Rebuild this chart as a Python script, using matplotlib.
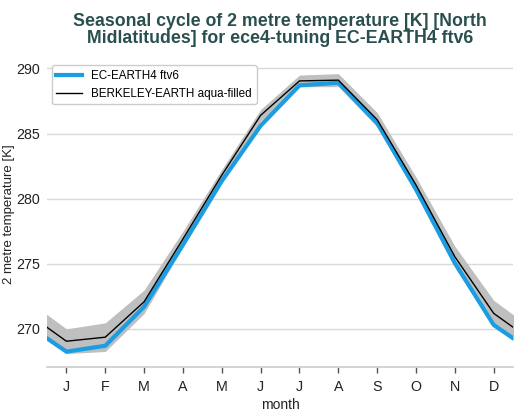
import numpy as np
import matplotlib.pyplot as plt

plt.rcParams['font.family'] = ['Liberation Sans', 'DejaVu Sans']

months = ['J', 'F', 'M', 'A', 'M', 'J', 'J', 'A', 'S', 'O', 'N', 'D']
model = [268.25, 268.7, 271.7, 276.45, 281.35, 285.6, 288.7, 288.9, 285.8, 280.7, 275.05, 270.3]
obs = [269.05, 269.36, 272.08, 276.9, 281.8, 286.4, 289.04, 289.1, 286.06, 281.05, 275.54, 271.19]
obs_std = [0.95, 1.1, 0.9, 0.6, 0.45, 0.45, 0.45, 0.5, 0.55, 0.6, 0.8, 1.0]


def wrap(v):
    # add december before january and january after december
    v = np.asarray(v)
    return np.concatenate([v[-1:], v, v[:1]])


x = np.arange(0, 14)
m = wrap(model)
o = wrap(obs)
s = wrap(obs_std)

fig = plt.figure(figsize=(5.22, 4.18), dpi=100)
ax = fig.add_axes([0.09, 0.122, 0.893, 0.733])

ax.fill_between(x, o - s, o + s, color='#bfbfbf', lw=0, zorder=2)
ax.plot(x, m, color='#1c9de2', lw=3, label='EC-EARTH4 ftv6', zorder=3)
ax.plot(x, o, color='black', lw=1, label='BERKELEY-EARTH aqua-filled', zorder=4)

ax.set_xlim(0.5, 12.5)
ax.set_ylim(267.07, 290.6)
ax.set_xticks(range(1, 13))
ax.set_xticklabels(months)
ax.set_yticks([270, 275, 280, 285, 290])
ax.grid(axis='y', color='#d9d9d9', lw=1, zorder=1)
ax.set_axisbelow(True)
for sp in ['left', 'top', 'right']:
    ax.spines[sp].set_visible(False)
ax.spines['bottom'].set_color('#cccccc')
ax.spines['bottom'].set_linewidth(1.2)
ax.tick_params(axis='x', colors='#555555', labelcolor='#222222', length=4, width=1, labelsize=10.3, pad=5)
ax.tick_params(axis='y', length=0, labelcolor='#222222', labelsize=10.3, pad=5)

ax.set_xlabel('month', fontsize=10, color='#222222', labelpad=3)
ax.set_ylabel('2 metre temperature [K]', fontsize=9.5, color='#222222')
ax.yaxis.set_label_coords(-0.068, 0.5)
ax.set_title('Seasonal cycle of 2 metre temperature [K] [North\nMidlatitudes] for ece4-tuning EC-EARTH4 ftv6',
             fontsize=12.8, fontweight='bold', color='#2a4f4f', pad=13, linespacing=0.95)

leg = ax.legend(loc='upper left', fontsize=8.4, frameon=True, fancybox=True,
                edgecolor='#cccccc', framealpha=1, borderaxespad=0.4,
                handlelength=2.2)

fig.savefig('out.png', dpi=100)
